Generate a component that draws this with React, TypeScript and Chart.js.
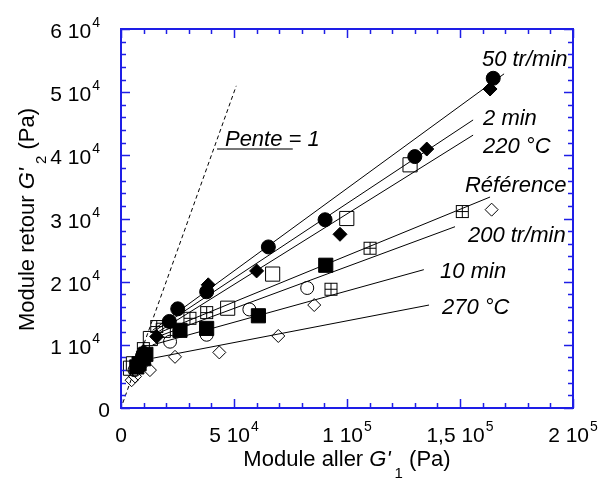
import React, { useEffect, useRef } from 'react';
import { Chart, registerables } from 'chart.js';

Chart.register(...registerables);

// ---- Axis ticks ----
const xTickValues = [0, 50000, 100000, 150000, 200000];
const xTickBase = ['0', '5 10', '1 10', '1,5 10', '2 10'];
const xTickExp = ['', '4', '5', '5', '5'];
const xMinorStep = 10000;
const yTickValues = [0, 10000, 20000, 30000, 40000, 50000, 60000];
const yTickBase = ['0', '1 10', '2 10', '3 10', '4 10', '5 10', '6 10'];
const yTickExp = ['', '4', '4', '4', '4', '4', '4'];
const yMinorStep = 2000;

// ---- Series names (line labels) ----
const seriesNames = ['50 tr/min', '2 min', '220 °C', 'Référence', '200 tr/min', '10 min', '270 °C'];

// ---- Measured points (Pa) ----
const tr50X = [164700, 130000, 90300, 65200, 37900, 25100, 21400, 9500, 8000];
const tr50Y = [52200, 39800, 29800, 25500, 18400, 15700, 13700, 8200, 7200];
const min2X = [163300, 135300, 96900, 60000, 38600, 15800, 10000, 8500];
const min2Y = [50500, 41000, 27500, 21700, 19500, 11300, 9000, 7500];
const c220X = [127900, 99900, 67100, 47200, 18700, 13000, 4200, 5500];
const c220Y = [38500, 30000, 21200, 15800, 12300, 11000, 6300, 7000];
const refX = [151000, 110200, 92900, 37900, 30500, 15800, 9900];
const refY = [31100, 25300, 18800, 15100, 14200, 12900, 9400];
const tr200X = [90600, 60800, 37900, 26100, 10000, 8000, 7000, 11000];
const tr200Y = [22600, 14600, 12600, 12300, 7800, 7000, 6500, 8500];
const min10X = [82400, 56800, 37900, 21700, 6000, 8000];
const min10Y = [19000, 15600, 11600, 10500, 6000, 6500];
const c270X = [164000, 85500, 69600, 43500, 23900, 12800, 6200, 4700];
const c270Y = [31400, 16300, 11400, 8800, 8100, 6000, 5000, 4400];

// ---- Fitted lines (start / end, Pa) ----
const fitX0 = [14000, 14000, 14000, 14000, 14000, 14000, 14300];
const fitY0 = [12300, 12000, 11500, 11500, 11000, 10000, 7900];
const fitX1 = [169500, 155800, 155800, 163300, 147800, 134000, 136300];
const fitY1 = [52900, 45600, 43200, 33400, 28700, 21900, 16300];

// ---- Label anchors (data units: left x, baseline y) ----
const labelX = [159700, 160200, 160200, 152200, 153500, 141200, 142000];
const labelY = [54100, 44800, 40400, 34200, 26300, 20600, 14900];

// ---- Slope = 1 reference ----
const slopeX = [800, 51000];
const slopeY = [800, 51000];
const slopeLabel = 'Pente = 1';
const slopeLabelX = 46000;
const slopeLabelY = 41500;
const slopeLeaderX = [42500, 76000];
const slopeLeaderY = 41000;

const FONT = '"Liberation Sans", Arial, sans-serif';
const BLUE = 'rgb(30,30,230)';

function makeCrossSquare(): HTMLCanvasElement {
  const c = document.createElement('canvas');
  c.width = 15;
  c.height = 15;
  const g = c.getContext('2d')!;
  g.strokeStyle = '#000';
  g.lineWidth = 1;
  g.strokeRect(1.5, 1.5, 12, 12);
  g.beginPath();
  g.moveTo(7.5, 1.5);
  g.lineTo(7.5, 13.5);
  g.moveTo(1.5, 7.5);
  g.lineTo(13.5, 7.5);
  g.stroke();
  return c;
}

function pts(xs: number[], ys: number[]) {
  return xs.map((x, i) => ({ x, y: ys[i] }));
}

function drawSupText(ctx: CanvasRenderingContext2D, base: string, sup: string, x: number, y: number, align: string) {
  ctx.font = `21px ${FONT}`;
  const wb = ctx.measureText(base).width;
  ctx.font = `14px ${FONT}`;
  const ws = sup ? ctx.measureText(sup).width + 1 : 0;
  const total = wb + ws;
  let left = x;
  if (align === 'center') left = x - total / 2;
  else if (align === 'right') left = x - total;
  ctx.textAlign = 'left';
  ctx.textBaseline = 'alphabetic';
  ctx.font = `21px ${FONT}`;
  ctx.fillText(base, left, y);
  if (sup) {
    ctx.font = `14px ${FONT}`;
    ctx.fillText(sup, left + wb + 1, y - 11);
  }
}

function drawTitle(ctx: CanvasRenderingContext2D, pre: string, sym: string, sub: string, post: string, cx: number, y: number) {
  const main = `22px ${FONT}`;
  const ital = `italic 22px ${FONT}`;
  const small = `15px ${FONT}`;
  ctx.font = main;
  const w1 = ctx.measureText(pre).width;
  ctx.font = ital;
  const w2 = ctx.measureText(sym).width;
  ctx.font = small;
  const w3 = ctx.measureText(sub).width;
  ctx.font = main;
  const w4 = ctx.measureText(post).width;
  const gap = 4;
  const total = w1 + w2 + gap + w3 + w4;
  let x = cx - total / 2;
  ctx.textAlign = 'left';
  ctx.textBaseline = 'alphabetic';
  ctx.font = main;
  ctx.fillText(pre, x, y);
  x += w1;
  ctx.font = ital;
  ctx.fillText(sym, x, y);
  x += w2 + gap;
  ctx.font = small;
  ctx.fillText(sub, x, y + 12);
  x += w3;
  ctx.font = main;
  ctx.fillText(post, x, y);
}

const decorPlugin = {
  id: 'decor',
  afterDatasetsDraw(chart: any) {
    const ctx: CanvasRenderingContext2D = chart.ctx;
    const xs = chart.scales.x;
    const ys = chart.scales.y;
    const { left, right, top, bottom } = chart.chartArea;
    ctx.save();

    // leader line for slope label
    ctx.strokeStyle = '#777';
    ctx.lineWidth = 2;
    ctx.beginPath();
    ctx.moveTo(xs.getPixelForValue(slopeLeaderX[0]), ys.getPixelForValue(slopeLeaderY));
    ctx.lineTo(xs.getPixelForValue(slopeLeaderX[1]), ys.getPixelForValue(slopeLeaderY));
    ctx.stroke();

    // frame
    ctx.strokeStyle = BLUE;
    ctx.lineWidth = 2;
    ctx.strokeRect(left, top, right - left, bottom - top);

    // ticks
    ctx.lineWidth = 1.5;
    ctx.beginPath();
    const xMax = xs.max;
    for (let v = xs.min; v <= xMax + 1; v += xMinorStep) {
      const px = Math.round(xs.getPixelForValue(v)) + 0.5;
      const major = xTickValues.includes(v);
      const len = major ? 9 : 5;
      ctx.moveTo(px, bottom);
      ctx.lineTo(px, bottom - len);
      ctx.moveTo(px, top);
      ctx.lineTo(px, top + len);
    }
    for (let v = ys.min; v <= ys.max + 1; v += yMinorStep) {
      const py = Math.round(ys.getPixelForValue(v)) + 0.5;
      const major = yTickValues.includes(v);
      const len = major ? 9 : 5;
      ctx.moveTo(left, py);
      ctx.lineTo(left + len, py);
      ctx.moveTo(right, py);
      ctx.lineTo(right - len, py);
    }
    ctx.stroke();

    // tick labels
    ctx.fillStyle = '#000';
    xTickValues.forEach((v, i) => {
      drawSupText(ctx, xTickBase[i], xTickExp[i], xs.getPixelForValue(v), bottom + 34, 'center');
    });
    yTickValues.forEach((v, i) => {
      const py = ys.getPixelForValue(v);
      const edge = yTickExp[i] ? left - 21 : left - 11;
      drawSupText(ctx, yTickBase[i], yTickExp[i], edge, py + 9, 'right');
    });

    // axis titles
    drawTitle(ctx, 'Module aller ', "G'", '1', ' (Pa)', (left + right) / 2, bottom + 58);
    ctx.save();
    ctx.translate(34, (top + bottom) / 2 + 1);
    ctx.rotate(-Math.PI / 2);
    drawTitle(ctx, 'Module retour ', "G'", '2', ' (Pa)', 0, 0);
    ctx.restore();

    // series labels
    ctx.font = `italic 22px ${FONT}`;
    ctx.textAlign = 'left';
    ctx.textBaseline = 'alphabetic';
    seriesNames.forEach((name, i) => {
      ctx.fillText(name, xs.getPixelForValue(labelX[i]), ys.getPixelForValue(labelY[i]));
    });
    ctx.fillText(slopeLabel, xs.getPixelForValue(slopeLabelX), ys.getPixelForValue(slopeLabelY));

    ctx.restore();
  },
};

export default function App() {
  const ref = useRef<HTMLCanvasElement>(null);
  useEffect(() => {
    if (!ref.current) return;
    const crossSq = makeCrossSquare();
    const markerBase = { type: 'scatter' as const, showLine: false, borderColor: '#000', borderWidth: 1 };
    const markerSets = [
      { ...markerBase, label: seriesNames[0], data: pts(tr50X, tr50Y), pointStyle: 'circle', pointRadius: 7, backgroundColor: '#000' },
      { ...markerBase, label: seriesNames[1], data: pts(min2X, min2Y), pointStyle: 'rectRot', pointRadius: 7, backgroundColor: '#000' },
      { ...markerBase, label: seriesNames[2], data: pts(c220X, c220Y), pointStyle: 'rect', pointRadius: 10, backgroundColor: 'rgba(0,0,0,0)' },
      { ...markerBase, label: seriesNames[3], data: pts(refX, refY), pointStyle: crossSq, pointRadius: 7, backgroundColor: 'rgba(0,0,0,0)' },
      { ...markerBase, label: seriesNames[4], data: pts(tr200X, tr200Y), pointStyle: 'rect', pointRadius: 10, backgroundColor: '#000' },
      { ...markerBase, label: seriesNames[5], data: pts(min10X, min10Y), pointStyle: 'circle', pointRadius: 6.5, backgroundColor: 'rgba(0,0,0,0)' },
      { ...markerBase, label: seriesNames[6], data: pts(c270X, c270Y), pointStyle: 'rectRot', pointRadius: 6.5, backgroundColor: 'rgba(0,0,0,0)' },
    ];
    const lineSets = seriesNames.map((name, i) => ({
      type: 'line' as const,
      label: 'fit ' + name,
      data: [
        { x: fitX0[i], y: fitY0[i] },
        { x: fitX1[i], y: fitY1[i] },
      ],
      borderColor: '#000',
      borderWidth: 1,
      pointRadius: 0,
      fill: false,
    }));
    const slopeSet = {
      type: 'line' as const,
      label: slopeLabel,
      data: pts(slopeX, slopeY),
      borderColor: '#000',
      borderWidth: 1,
      borderDash: [4, 3],
      pointRadius: 0,
      fill: false,
    };
    const chart = new Chart(ref.current, {
      type: 'scatter',
      data: { datasets: [...markerSets, ...lineSets, slopeSet] as any },
      options: {
        animation: false,
        responsive: false,
        maintainAspectRatio: false,
        layout: { padding: { left: 121, right: 31, top: 29, bottom: 71 } },
        plugins: { legend: { display: false }, tooltip: { enabled: false } },
        scales: {
          x: { type: 'linear', min: 0, max: 200000, display: false },
          y: { type: 'linear', min: 0, max: 60000, display: false },
        },
      },
      plugins: [decorPlugin],
    });
    return () => chart.destroy();
  }, []);
  return (
    <div style={{ position: 'fixed', left: 0, top: 0, width: 604, height: 479, background: '#fff' }}>
      <canvas ref={ref} width={604} height={479} style={{ width: 604, height: 479 }} />
    </div>
  );
}
